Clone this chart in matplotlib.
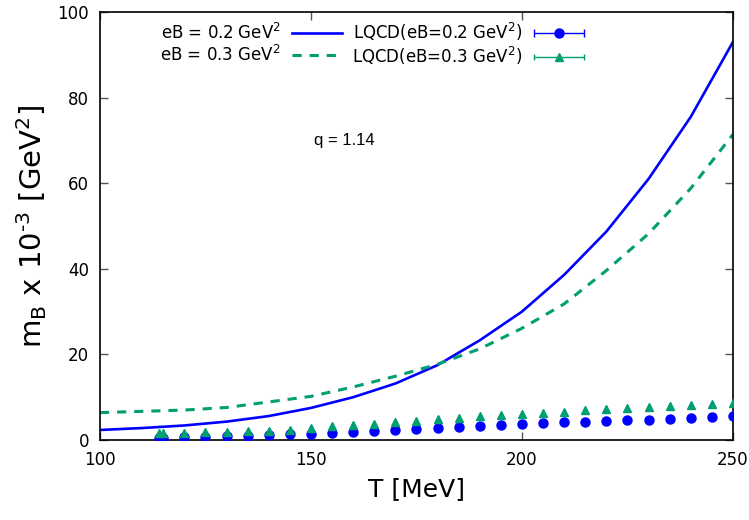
import matplotlib
matplotlib.use("Agg")
import matplotlib.pyplot as plt
from matplotlib import font_manager
from matplotlib.legend_handler import HandlerErrorbar

# model curves, T in MeV
T_model = [100, 110, 120, 130, 140, 150, 160, 170, 180, 190, 200, 210, 220, 230, 240, 250]
mB_02 = [2.35, 2.8, 3.4, 4.3, 5.6, 7.5, 10.0, 13.2, 17.5, 23.3, 30.0, 38.6, 48.7, 61.0, 75.5, 93.0]
mB_03 = [6.4, 6.7, 7.0, 7.6, 8.9, 10.2, 12.4, 14.9, 17.7, 21.3, 26.1, 31.8, 39.6, 48.2, 58.8, 71.4]

# lattice points
T_lqcd = [114, 115, 120, 125, 130, 135, 140, 145, 150, 155, 160, 165, 170, 175, 180, 185,
          190, 195, 200, 205, 210, 215, 220, 225, 230, 235, 240, 245, 250]
lqcd_02 = [0.5, 0.55, 0.62, 0.7, 0.86, 1.0, 1.17, 1.32, 1.45, 1.71, 1.95, 2.18, 2.41, 2.57, 2.8,
           3.04, 3.3, 3.55, 3.78, 3.9, 4.13, 4.28, 4.44, 4.6, 4.75, 4.91, 5.14, 5.37, 5.55]
lqcd_03 = [1.55, 1.6, 1.7, 1.8, 1.9, 2.0, 2.2, 2.35, 2.75, 3.2, 3.5, 3.85, 4.1, 4.5, 4.9,
           5.2, 5.5, 5.8, 6.1, 6.4, 6.6, 7.0, 7.2, 7.5, 7.7, 7.95, 8.2, 8.4, 8.6]

blue = '#0000ff'
green = '#009e73'

names = set(f.name for f in font_manager.fontManager.ttflist)
tick_font = 'DejaVu Sans'
for cand in ['DejaVu Sans Condensed', 'Liberation Sans Narrow']:
    if cand in names:
        tick_font = cand
        break

plt.rcParams['font.family'] = 'DejaVu Sans'

fig = plt.figure(figsize=(7.49, 5.2), dpi=100)
ax = fig.add_axes([0.1335, 0.1538, 0.8451, 0.8232])

l1, = ax.plot(T_model, mB_02, color=blue, lw=1.9, label='eB = 0.2 GeV$^2$')
l2, = ax.plot(T_model, mB_03, color=green, lw=2.2, dashes=(3, 2.6), label='eB = 0.3 GeV$^2$')
e1 = ax.errorbar(T_lqcd, lqcd_02, xerr=0, fmt='o', color=blue, ms=6.5, capsize=3, elinewidth=1,
                 label='LQCD(eB=0.2 GeV$^2$)', zorder=3)
e2 = ax.errorbar(T_lqcd, lqcd_03, xerr=0, fmt='^', color=green, ms=5.5, capsize=2.5, elinewidth=1,
                 label='LQCD(eB=0.3 GeV$^2$)', zorder=3)

ax.text(158, 70, 'q = 1.14', ha='center', va='center', fontsize=12, family='Liberation Sans')

ax.set_xlim(100, 250)
ax.set_ylim(0, 100)
ax.set_xticks([100, 150, 200, 250])
ax.set_yticks([0, 20, 40, 60, 80, 100])
ax.tick_params(direction='in', top=True, right=True, length=6, width=1, color='#555555',
               labelsize=12, pad=8)
for lab in ax.get_xticklabels() + ax.get_yticklabels():
    lab.set_family(tick_font)
for s in ax.spines.values():
    s.set_linewidth(1.2)

ax.set_xlabel('T [MeV]', fontsize=18, labelpad=6)
ax.set_ylabel('m$_\\mathregular{B}$ x 10$^\\mathregular{\u20103}$ [GeV$^\\mathregular{2}$]',
              fontsize=21, labelpad=6)

hm = {e1: HandlerErrorbar(xerr_size=1.5), e2: HandlerErrorbar(xerr_size=1.5)}
leg = ax.legend(handles=[l1, l2, e1, e2], ncol=2, markerfirst=False, frameon=False, fontsize=12,
                handlelength=3, handletextpad=0.7, columnspacing=0.6, labelspacing=0.1,
                numpoints=1, handler_map=hm, loc='upper right',
                bbox_to_anchor=(599 / 749, 1 - 6 / 520), bbox_transform=fig.transFigure)

fig.savefig('out.png', dpi=100)
